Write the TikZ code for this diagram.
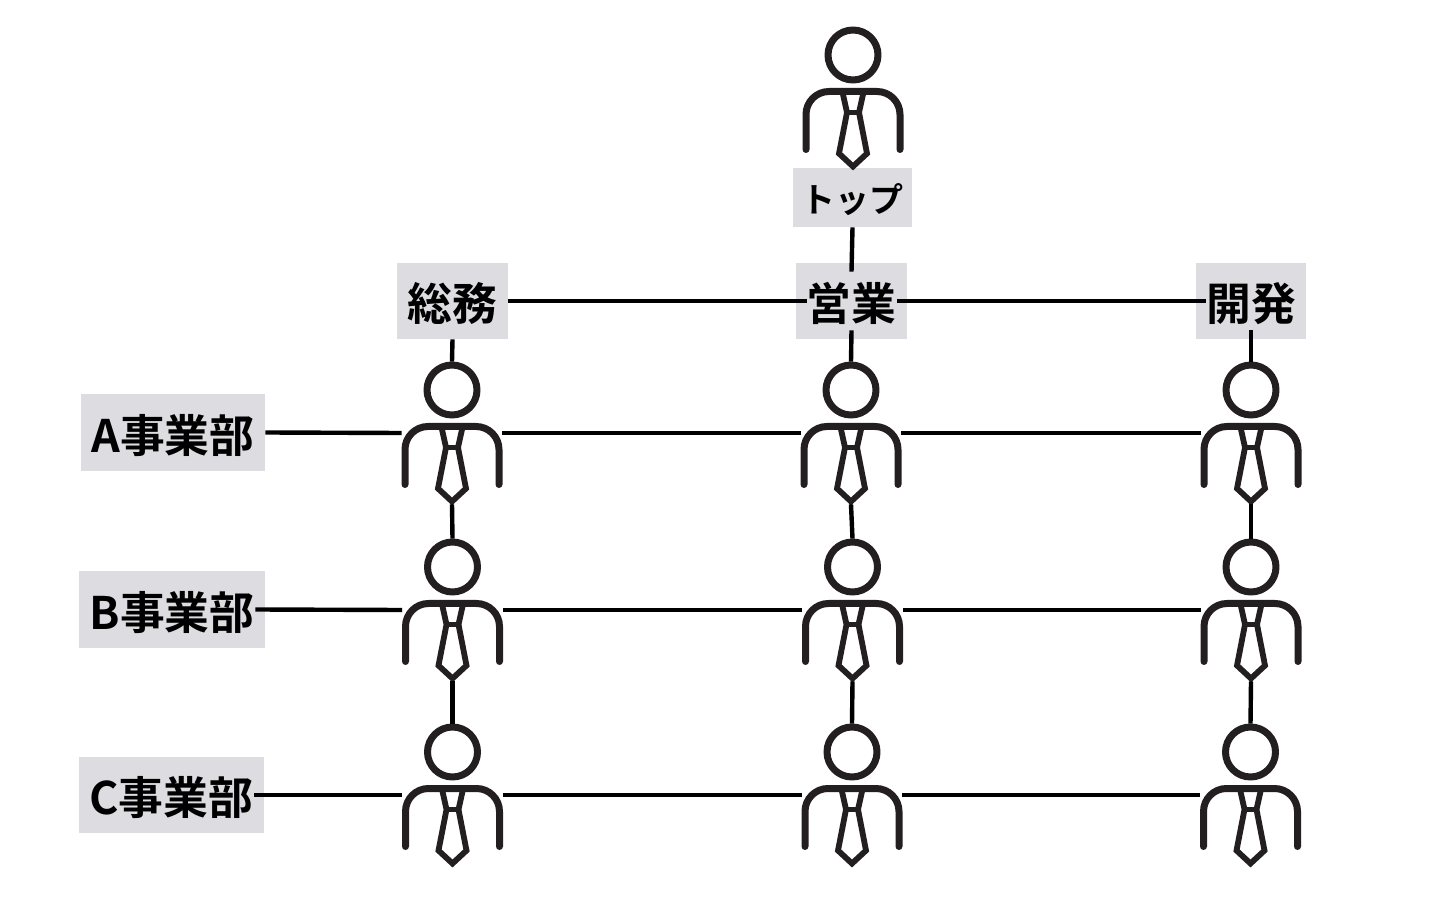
\documentclass[tikz,border=0pt]{standalone}
\usepackage{fontspec}
\setmainfont{Noto Sans CJK JP}[BoldFont={Noto Sans CJK JP Bold}]
\usetikzlibrary{calc}
\definecolor{boxgrey}{HTML}{DDDCE1}
\definecolor{figink}{HTML}{231F20}
\newcommand{\lowered}[1]{\raisebox{-9.8pt}[0pt][0pt]{#1}}
\newcommand{\loweredtop}[1]{\raisebox{-7.7pt}[0pt][0pt]{#1}}
\tikzset{
  x=0.5pt,y=-0.5pt,
  labelbox/.style={fill=boxgrey,inner sep=0pt,font=\fontsize{22.4pt}{26pt}\selectfont\bfseries,text=black},
  topbox/.style={fill=boxgrey,inner sep=0pt,font=\fontsize{17pt}{20pt}\selectfont\bfseries,text=black},
  personbox/.style={inner sep=0pt,minimum width=50pt,minimum height=71pt},
  ink/.style={draw=figink,line width=3.5pt,line cap=round,line join=round},
  thinink/.style={draw=figink,line width=2.9pt,line cap=butt,line join=miter},
  conn/.style={draw=black,line width=2.2pt}
}
\newcommand{\personfig}[3]{% name, x of centre, y of centre
  \node[personbox] (#1) at (#2,#3) {};
  \begin{scope}[shift={(#2,#3)}]
    \draw[ink] (0,-43) circle (25);
    \draw[ink] (-47,51.5) -- (-47,16.5) .. controls (-47,3.8) and (-36.7,-6.5) .. (-24,-6.5) -- (24,-6.5) .. controls (36.7,-6.5) and (47,3.8) .. (47,16.5) -- (47,51.5);
    \draw[thinink] (-10,-3.5) -- (-6,14.5) -- (-14,55.5) -- (0,68.5) -- (14,55.5) -- (6,14.5) -- (10,-3.5);
    \draw[thinink] (-6,14.5) -- (6,14.5);
  \end{scope}
}
\begin{document}
\begin{tikzpicture}
\useasboundingbox (0,0) rectangle (1440,924);
% label boxes
\node[topbox,minimum width=59.5pt,minimum height=29.5pt] (top) at (852.5,197.5) {\loweredtop{トップ}};
\node[labelbox,minimum width=55.5pt,minimum height=38pt] (soumu) at (452.5,301) {\lowered{総務}};
\node[labelbox,minimum width=55.5pt,minimum height=38pt] (eigyo) at (851.5,301) {\lowered{営業}};
\node[labelbox,minimum width=55pt,minimum height=38pt] (kaihatsu) at (1251,301) {\lowered{開発}};
\node[labelbox,minimum width=92pt,minimum height=38.5pt] (diva) at (173,432.5) {\lowered{A事業部}};
\node[labelbox,minimum width=93pt,minimum height=38.5pt] (divb) at (172,609.5) {\lowered{B事業部}};
\node[labelbox,minimum width=92.5pt,minimum height=38pt] (divc) at (171.5,795) {\lowered{C事業部}};
% people
\personfig{boss}{853}{98}
\personfig{a1}{452}{433}
\personfig{a2}{851}{433}
\personfig{a3}{1251}{433}
\personfig{b1}{452.5}{610}
\personfig{b2}{852.5}{610}
\personfig{b3}{1251}{610}
\personfig{c1}{452.5}{795}
\personfig{c2}{852}{795}
\personfig{c3}{1250.5}{795}
% connectors
\draw[conn] (top.south) -- ([yshift=-4.5pt]eigyo.north);
\draw[conn] (soumu.east) -- ([xshift=5.5pt]eigyo.west);
\draw[conn] ([xshift=-5pt]eigyo.east) -- ([xshift=5pt]kaihatsu.west);
\draw[conn] (soumu.south) -- (a1.north);
\draw[conn] ([yshift=4.5pt]eigyo.south) -- (a2.north);
\draw[conn] ([yshift=4.5pt]kaihatsu.south) -- (a3.north);
\draw[conn] (diva.east) -- (a1.west);
\draw[conn] (a1.east) -- (a2.west);
\draw[conn] (a2.east) -- (a3.west);
\draw[conn] ([xshift=-5pt]divb.east) -- (b1.west);
\draw[conn] (b1.east) -- (b2.west);
\draw[conn] (b2.east) -- (b3.west);
\draw[conn] ([xshift=-5pt]divc.east) -- (c1.west);
\draw[conn] (c1.east) -- (c2.west);
\draw[conn] (c2.east) -- (c3.west);
\draw[conn] (a1.south) -- (b1.north);
\draw[conn] (a2.south) -- (b2.north);
\draw[conn] (a3.south) -- (b3.north);
\draw[conn] (b1.south) -- (c1.north);
\draw[conn] (b2.south) -- (c2.north);
\draw[conn] (b3.south) -- (c3.north);
\end{tikzpicture}
\end{document}
